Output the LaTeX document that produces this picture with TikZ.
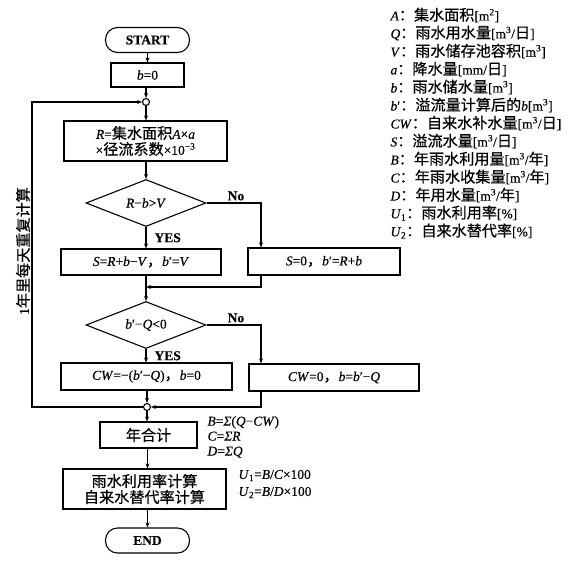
\documentclass[tikz,border=0pt]{standalone}
\usepackage{fontspec}
\setmainfont{Liberation Serif}[FakeBold=0.3]
\newfontfamily\cjk[Scale=1.12, FakeBold=0.5]{Noto Sans CJK SC}
\usetikzlibrary{positioning,shapes.geometric,arrows.meta}
\newcommand{\vi}[1]{\textit{#1}}
\newcommand{\basefont}{\fontsize{13.5}{16}\selectfont}

\begin{document}
\begin{tikzpicture}[>={Stealth[length=5pt,width=4pt]}, x=1pt, y=-1pt, line width=1.1pt, font=\basefont]
    \tikzset{module/.style={draw, align=center, inner sep=0pt, minimum height=26pt},
             terminal/.style={draw, rounded corners=12pt, inner sep=0pt, minimum width=84pt, minimum height=25pt, font=\basefont\bfseries},
             decision/.style={draw, diamond, aspect=2.5, inner sep=0pt, minimum width=120pt, minimum height=47pt},
             junction/.style={draw, circle, fill=white, inner sep=0pt, minimum size=7pt},
             tag/.style={font=\basefont\bfseries, inner sep=2pt},
             legend/.style={anchor=west, inner sep=0pt},
             note/.style={anchor=west, inner sep=0pt, align=left, font=\fontsize{13.5}{15}\selectfont}}
    \useasboundingbox (0,0) rectangle (569,563);

    % Nodes
    \node[terminal] (start) at (147.5,40) {START};
    \node[module, minimum width=73pt, minimum height=24pt] (init) at (147.5,75) {\vi{b}=0};
    \node[junction] (j1) at (146,102) {};
    \node[module, minimum width=163pt, minimum height=40pt] (rain) at (145.5,141)
        {\vi{R}={\cjk 集水面积}\vi{A}×\vi{a}\\×{\cjk 径流系数}×10\textsuperscript{−3}};
    \node[decision] (overflow) at (146,203) {\vi{R}−\vi{b}>\vi{V}};
    \node[module, minimum width=160pt] (spill) at (141,262) {\vi{S}=\vi{R}+\vi{b}−\vi{V}{\cjk ，}\vi{b}′=\vi{V}};
    \node[module, minimum width=152pt, minimum height=27pt] (nospill) at (324,261.5) {\vi{S}=0{\cjk ，}\vi{b}′=\vi{R}+\vi{b}};
    \node[decision] (shortage) at (146,325) {\vi{b}′−\vi{Q}<0};
    \node[module, minimum width=171pt, minimum height=27pt] (supply) at (146.5,376.5) {\vi{CW}=−(\vi{b}′−\vi{Q}){\cjk ，}\vi{b}=0};
    \node[module, minimum width=170pt, minimum height=27pt] (nosupply) at (334,377.5) {\vi{CW}=0{\cjk ，}\vi{b}=\vi{b}′−\vi{Q}};
    \node[junction] (j2) at (147,407) {};
    \node[module, minimum width=97pt] (total) at (148.5,435) {{\cjk 年合计}};
    \node[module, minimum width=163pt, minimum height=40pt] (rate) at (144.5,489) {{\cjk 雨水利用率计算}\\{\cjk 自来水替代率计算}};
    \node[terminal] (end) at (147.5,540.5) {END};

    % Side notes
    \node[rotate=90] (loop) at (23,251) {1{\cjk 年里每天重复计算}};
    \node[note] (sums) at (207,437) {\vi{B}=\vi{Σ}(\vi{Q}−\vi{CW})\\\vi{C}=\vi{Σ}\vi{R}\\\vi{D}=\vi{Σ}\vi{Q}};
    \node[note, font=\fontsize{13.5}{17}\selectfont] (ratios) at (238,484) {\vi{U}\textsubscript{1}=\vi{B}/\vi{C}×100\\\vi{U}\textsubscript{2}=\vi{B}/\vi{D}×100};

    % Legend of symbols
    \foreach \txt [count=\i] in {
        {\vi{A}{\cjk ：集水面积}[m\textsuperscript{2}]},
        {\vi{Q}{\cjk ：雨水用水量}[m\textsuperscript{3}/{\cjk 日}]},
        {\vi{V}{\cjk ：雨水储存池容积}[m\textsuperscript{3}]},
        {\vi{a}{\cjk ：降水量}[mm/{\cjk 日}]},
        {\vi{b}{\cjk ：雨水储水量}[m\textsuperscript{3}]},
        {\vi{b}′{\cjk ：溢流量计算后的}\vi{b}[m\textsuperscript{3}]},
        {\vi{CW}{\cjk ：自来水补水量}[m\textsuperscript{3}/{\cjk 日}]},
        {\vi{S}{\cjk ：溢流水量}[m\textsuperscript{3}/{\cjk 日}]},
        {\vi{B}{\cjk ：年雨水利用量}[m\textsuperscript{3}/{\cjk 年}]},
        {\vi{C}{\cjk ：年雨水收集量}[m\textsuperscript{3}/{\cjk 年}]},
        {\vi{D}{\cjk ：年用水量}[m\textsuperscript{3}/{\cjk 年}]},
        {\vi{U}\textsubscript{1}{\cjk ：雨水利用率}[\%]},
        {\vi{U}\textsubscript{2}{\cjk ：自来水替代率}[\%]}}
        \node[legend] (leg\i) at (390,{15+18*(\i-1)}) {\txt};

    % Helper points for the side branches
    \coordinate (rside) at (261,0);
    \coordinate (merge) at (146,287);
    \coordinate (back) at (32,250);

    % Main flow
    \draw[->] (start) -- (init);
    \draw[->] (init.south -| j1) -- (j1);
    \draw[->] (j1) -- (j1 |- rain.north);
    \draw[->] (rain.south -| overflow) -- (overflow);
    \draw[->] (overflow.south) -- node[tag, right, xshift=6pt]{YES} (overflow.south |- spill.north);
    \draw[->] (overflow.east) -| node[tag, pos=0.27, above]{No} (nospill.north -| rside);
    \draw[->] (nospill.south -| rside) |- (merge);
    \draw[->] (spill.south -| shortage) -- (shortage.north);
    \draw[->] (shortage.south) -- node[tag, right, xshift=6pt]{YES} (shortage.south |- supply.north);
    \draw[->] (shortage.east) -| node[tag, pos=0.27, above]{No} (nosupply.north -| rside);
    \draw[->] (nosupply.south -| rside) |- (j2);
    \draw[->] (supply.south -| j2) -- (j2);

    % Repeat for every day of the year
    \draw[->] (j2) -| (back) |- (j1);

    % Yearly totals
    \draw[->] (j2) -- (j2 |- total.north);
    \draw[->] (total.south -| end) -- (end.north |- rate.north);
    \draw[->] (rate.south -| end) -- (end);
  \end{tikzpicture}
\end{document}
